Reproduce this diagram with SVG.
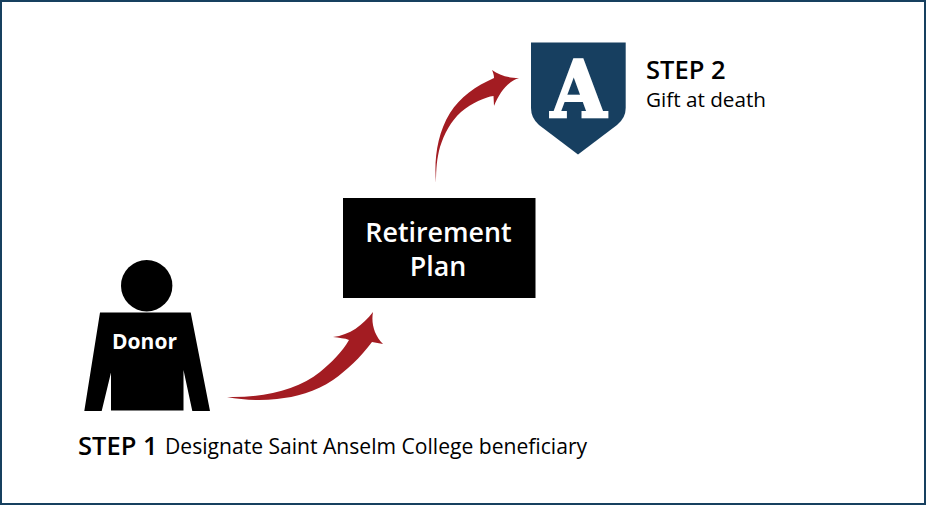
<svg xmlns="http://www.w3.org/2000/svg" width="926" height="505" viewBox="0 0 926 505">
<style>
.s{font-family:"Open Sans","Noto Sans","Liberation Sans",sans-serif;}
.b{font-weight:600;fill:#000}
.w{font-weight:700;fill:#fff;text-anchor:middle}
.arrow{fill:#a31c22}
</style>
<rect x="1" y="1" width="924" height="503" fill="#fff" stroke="#17405f" stroke-width="2"/>
<g id="connectors">
<path class="arrow" d="M227 397C262 398 298 390 320 372C332 362 342 352 349 340C345 338 339 338 333 337C350 335 363 325 373 312C371 323 374 335 383 344L372 342C360 358 347 370 333 380C315 392 296 397 277 399C260 401 243 400 227 397Z"/>
<path class="arrow" d="M436 183C434 160 437 134 450 113C460 97 476 86 494 78C494 75 493 72 492 70C499 75 507 78 519 78C509 81 500 91 494 106L493.500 96C485 97 472 103 461 112C451 121 444 134 440 147C437 158 436 168 436 183Z"/>
</g>
<g id="donor">
<circle cx="146.700" cy="285.700" r="25.700" fill="#000"/>
<path d="M100 312.500H190.700L210 411H192.300L183.500 370V410.500H111V372.500L101.700 411H84.300Z" fill="#000"/>
<text class="s w" x="144.500" y="349" font-size="21">Donor</text>
</g>
<g id="retirement-plan">
<rect x="343" y="198" width="192.500" height="100" fill="#000"/>
<text class="s" x="438.500" y="241.500" font-size="26.800" font-weight="600" fill="#fff" text-anchor="middle">Retirement</text>
<text class="s" x="438" y="275.500" font-size="26.800" font-weight="600" fill="#fff" text-anchor="middle">Plan</text>
</g>
<g id="college">
<path d="M531 42.500H625.700V108Q625.700 118 617 125L578 154.500L539 125Q531 118 531 108Z" fill="#173f60"/>
<text transform="translate(578.500 116.500) scale(0.92 1)" text-anchor="middle" font-family="DejaVu Serif" font-weight="700" font-size="78" fill="#fff" stroke="#fff" stroke-width="2.500">A</text>
</g>
<g id="step-2">
<text class="s b" x="646" y="79" font-size="25.500">STEP 2</text>
<text class="s" x="646" y="107" font-size="20.700" fill="#000">Gift at death</text>
</g>
<g id="step-1">
<text class="s b" x="78" y="454.500" font-size="25.500">STEP 1</text>
<text class="s" x="165" y="453.500" font-size="21.100" fill="#000">Designate Saint Anselm College beneficiary</text>
</g>
</svg>
